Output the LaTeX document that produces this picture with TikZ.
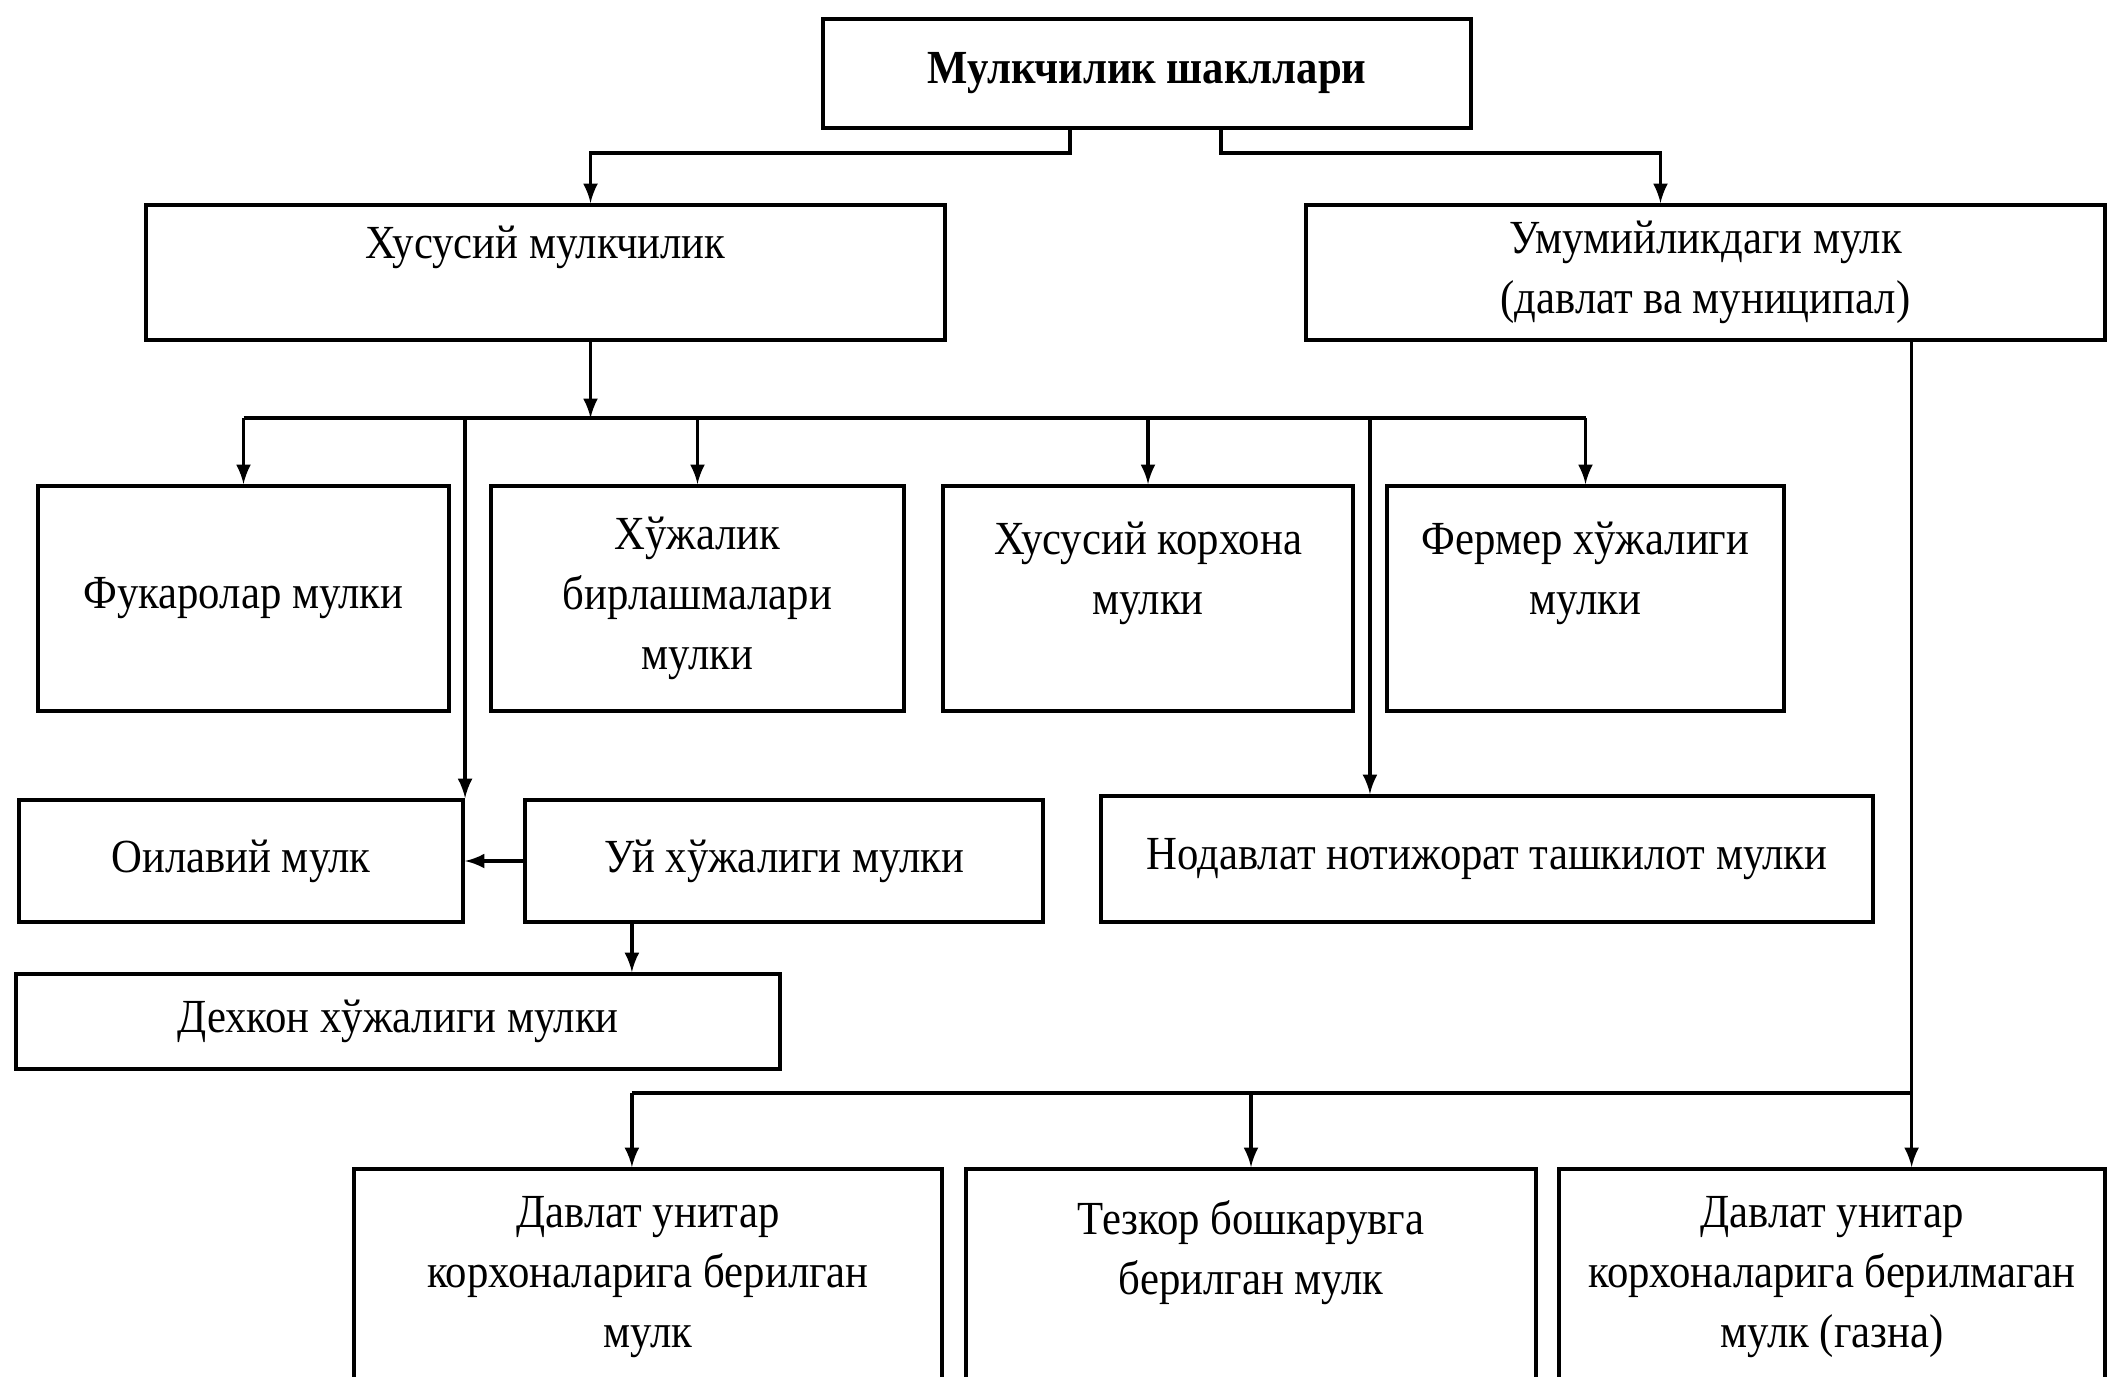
\documentclass[tikz,border=0pt]{standalone}
\usepackage{fontspec}
\setmainfont{Liberation Serif}[FakeStretch=0.9]
\usetikzlibrary{shapes,arrows}

\begin{document}
\begin{tikzpicture}[x=0.01cm,y=-0.01cm]
		\tikzstyle {box} = [draw, line width=1.1pt, align=center, inner sep=2pt, font=\fontsize{13.5}{17}\selectfont]
		\tikzstyle {arr} = [-latex, line width=0.9pt]
		\tikzstyle {link} = [line width=0.9pt]

		\useasboundingbox (0,0) rectangle (2116,1376);
		\clip (0,0) rectangle (2116,1376);

		% top
		\node[box, font=\fontsize{13.5}{17}\selectfont\bfseries, minimum width=6.48cm, minimum height=1.09cm] (forms) at (1147,73.5) {Мулкчилик шакллари};
		\node[box, minimum width=7.99cm, minimum height=1.35cm] (priv) at (545.5,272.5) {Хусусий мулкчилик\\ \mbox{}};
		\node[box, minimum width=7.99cm, minimum height=1.35cm] (publ) at (1705.5,272.5) {Умумийликдаги мулк\\(давлат ва муниципал)};

		% private forms
		\node[box, minimum width=4.11cm, minimum height=2.25cm] (citz) at (243.5,598.5) {Фукаролар мулки};
		\node[box, minimum width=4.13cm, minimum height=2.25cm] (assoc) at (697.5,598.5) {Хўжалик\\бирлашмалари\\мулки};
		\node[box, minimum width=4.10cm, minimum height=2.25cm] (firm) at (1148,598.5) {Хусусий корхона\\мулки\\ \mbox{}};
		\node[box, minimum width=3.97cm, minimum height=2.25cm] (farm) at (1585.5,598.5) {Фермер хўжалиги\\мулки\\ \mbox{}};

		\node[box, minimum width=4.44cm, minimum height=1.22cm] (family) at (241,861) {Оилавий мулк};
		\node[box, minimum width=5.18cm, minimum height=1.22cm] (house) at (784,861) {Уй хўжалиги мулки};
		\node[box, minimum width=7.72cm, minimum height=1.26cm] (ngo) at (1487,859) {Нодавлат нотижорат ташкилот мулки};
		\node[box, minimum width=7.64cm, minimum height=0.95cm] (dehq) at (398,1021.5) {Дехкон хўжалиги мулки};

		% public forms
		\node[box, anchor=north, minimum width=5.88cm, minimum height=2.16cm] (unit) at (648,1167) {Давлат унитар\\корхоналарига берилган\\мулк};
		\node[box, anchor=north, minimum width=5.70cm, minimum height=2.16cm] (oper) at (1251,1167) {Тезкор бошкарувга\\берилган мулк\\ \mbox{}};
		\node[box, anchor=north, minimum width=5.46cm, minimum height=2.16cm] (treas) at (1832,1167) {Давлат унитар\\корхоналарига берилмаган\\мулк (газна)};

		\draw[arr] ([xshift=-0.77cm]forms.south) -- ++(0,23) -| ([xshift=0.45cm]priv.north);
		\draw[arr] ([xshift=0.74cm]forms.south) -- ++(0,23) -| ([xshift=-0.45cm]publ.north);

		\coordinate (privout) at ([xshift=0.45cm]priv.south);
		\coordinate (bus) at (privout |- 0,418);
		\draw[arr] (privout) -- (bus);
		\draw[link] (citz.north |- bus) -- (farm.north |- bus);
		\foreach \n in {citz, assoc, firm, farm}
			\draw[arr] (\n.north |- bus) -- (\n.north);
		\draw[arr] (family.north east |- bus) -- (family.north east);
		\coordinate (ngoin) at ([xshift=-1.17cm]ngo.north);
		\draw[arr] (ngoin |- bus) -- (ngoin);

		\draw[arr] (house.west) -- (family.east);
		\coordinate (houseout) at ([xshift=-1.52cm]house.south);
		\draw[arr] (houseout) -- (houseout |- dehq.north);

		\coordinate (publout) at ([xshift=2.06cm]publ.south);
		\coordinate (bus2) at (houseout |- 0,1093);
		\draw[arr] (publout) -- (publout |- treas.north);
		\draw[link] (bus2) -- (publout |- bus2);
		\draw[arr] (bus2) -- (bus2 |- unit.north);
		\draw[arr] (oper.north |- bus2) -- (oper.north);
	\end{tikzpicture}
\end{document}
